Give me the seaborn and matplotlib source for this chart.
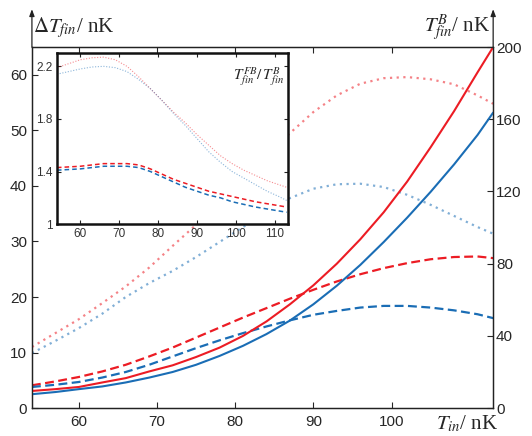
import numpy as np
import matplotlib
matplotlib.use("Agg")
import matplotlib.pyplot as plt
import seaborn as sns

# temperatures T_in (nK)
t_in = [54, 57, 60, 63, 66, 69, 72, 75, 78, 81, 84, 87, 90, 93, 96, 99, 102, 105, 108, 111, 113]

# T_fin^B (right axis, nK)
tb_red = [9.5, 10.5, 11.7, 14.2, 16.6, 20.3, 23.7, 28.3, 33.5, 40.0, 48.0, 57.5, 68.0, 80.0,
          93.5, 108.5, 125.5, 144.5, 164.5, 186.0, 200.0]
tb_blue = [7.7, 8.9, 10.5, 12.0, 14.2, 16.9, 20.0, 24.0, 28.9, 34.5, 41.0, 48.5, 57.5, 67.8,
           79.3, 92.0, 105.5, 119.8, 135.0, 151.3, 163.7]

# Delta T_fin (left axis, nK)
dt_red_dash = [4.1, 4.8, 5.6, 6.6, 7.8, 9.3, 10.9, 12.7, 14.5, 16.3, 18.0, 19.7, 21.3, 22.8,
               24.1, 25.2, 26.1, 26.8, 27.2, 27.3, 27.0]
dt_blue_dash = [3.8, 4.2, 4.7, 5.5, 6.5, 7.8, 9.3, 10.8, 12.2, 13.5, 14.7, 15.8, 16.8, 17.5,
                18.1, 18.4, 18.4, 18.1, 17.6, 16.9, 16.2]
dt_red_dot = [11.0, 13.5, 16.0, 18.9, 21.9, 25.3, 29.2, 33.0, 37.0, 41.2, 45.4, 49.5, 53.3, 56.3,
              58.4, 59.4, 59.6, 59.2, 58.3, 56.3, 54.8]
dt_blue_dot = [9.9, 12.1, 14.4, 17.0, 20.0, 22.5, 24.7, 27.2, 29.9, 32.6, 35.3, 37.8, 39.5, 40.3,
               40.4, 39.8, 38.4, 36.6, 34.6, 32.6, 31.4]

# inset: T_fin^FB / T_fin^B
r_red_dot = [2.19, 2.22, 2.25, 2.265, 2.27, 2.25, 2.20, 2.12, 2.03, 1.94, 1.85, 1.77, 1.68, 1.60,
             1.52, 1.46, 1.41, 1.37, 1.33, 1.30, 1.28]
r_blue_dot = [2.14, 2.16, 2.18, 2.195, 2.20, 2.19, 2.16, 2.10, 2.03, 1.94, 1.84, 1.75, 1.65, 1.55,
              1.47, 1.40, 1.35, 1.30, 1.25, 1.21, 1.18]
r_red_dash = [1.43, 1.435, 1.44, 1.45, 1.46, 1.46, 1.46, 1.45, 1.42, 1.38, 1.34, 1.31, 1.28, 1.25,
              1.23, 1.21, 1.19, 1.17, 1.155, 1.14, 1.13]
r_blue_dash = [1.41, 1.415, 1.42, 1.43, 1.44, 1.44, 1.44, 1.43, 1.40, 1.36, 1.32, 1.28, 1.25, 1.22,
               1.20, 1.17, 1.15, 1.13, 1.115, 1.10, 1.09]

RED = '#ec1c24'
BLUE = '#1a6db5'

sns.set_style('ticks')
plt.rcParams['font.family'] = ['Liberation Sans', 'DejaVu Sans']
plt.rcParams['mathtext.fontset'] = 'stix'
plt.rcParams['xtick.direction'] = 'in'
plt.rcParams['ytick.direction'] = 'in'

fig = plt.figure(figsize=(5.32, 4.36), dpi=100)
ax = fig.add_axes([0.060, 0.064, 0.867, 0.828])
ax2 = ax.twinx()

dash = (0, (4, 2))
dot = (0, (1, 2))
sns.lineplot(x=t_in, y=dt_red_dot, ax=ax, color=RED, lw=1.6, linestyle=dot, alpha=0.55)
sns.lineplot(x=t_in, y=dt_blue_dot, ax=ax, color=BLUE, lw=1.6, linestyle=dot, alpha=0.55)
sns.lineplot(x=t_in, y=dt_red_dash, ax=ax, color=RED, lw=1.6, linestyle=dash)
sns.lineplot(x=t_in, y=dt_blue_dash, ax=ax, color=BLUE, lw=1.6, linestyle=dash)
sns.lineplot(x=t_in, y=tb_red, ax=ax2, color=RED, lw=1.5)
sns.lineplot(x=t_in, y=tb_blue, ax=ax2, color=BLUE, lw=1.5)

ax.set_xlim(54, 113)
ax.set_ylim(0, 65)
ax2.set_ylim(0, 200)
ax.set_xticks(np.arange(60, 101, 10))
ax.set_yticks(np.arange(0, 61, 10))
ax2.set_yticks(np.arange(0, 201, 40))
ax.tick_params(axis='x', top=True, length=4, labelsize=11, pad=5)
ax.tick_params(axis='y', right=False, length=4, labelsize=11)
ax2.tick_params(axis='y', length=4, labelsize=11, pad=2)
for a in (ax, ax2):
    a.set_xlabel('')
    a.set_ylabel('')
    for s in a.spines.values():
        s.set_linewidth(0.9)
        s.set_color('#222222')

# arrows on vertical axes
for xf in (0, 1):
    ax.annotate('', xy=(xf, 1.105), xytext=(xf, 1.0), xycoords='axes fraction',
                arrowprops=dict(arrowstyle='-|>,head_length=0.4,head_width=0.15',
                                color='#222222', lw=0.9, shrinkA=0, shrinkB=0))

fig.text(0.062, 0.937, r'$\Delta T_{fin}$/ nK', fontsize=15, family='Liberation Serif',
         ha='left', va='center')
fig.text(0.922, 0.937, r'$T_{fin}^{B}$/ nK', fontsize=15, family='Liberation Serif',
         ha='right', va='center')
fig.text(0.937, 0.028, r'$T_{in}$/ nK', fontsize=15, family='Liberation Serif',
         ha='right', va='center')

# inset
ins = fig.add_axes([0.107, 0.486, 0.434, 0.392])
ins.set_zorder(5)
ins.set_facecolor('white')
sns.lineplot(x=t_in, y=r_red_dot, ax=ins, color=RED, lw=0.8, linestyle=(0, (1, 1.5)), alpha=0.5)
sns.lineplot(x=t_in, y=r_blue_dot, ax=ins, color=BLUE, lw=0.8, linestyle=(0, (1, 1.5)), alpha=0.5)
sns.lineplot(x=t_in, y=r_red_dash, ax=ins, color=RED, lw=1.1, linestyle=(0, (3, 2)))
sns.lineplot(x=t_in, y=r_blue_dash, ax=ins, color=BLUE, lw=1.1, linestyle=(0, (3, 2)))
ins.set_xlim(54, 113.3)
ins.set_ylim(1, 2.3)
ins.set_xticks(np.arange(60, 111, 10))
ins.set_yticks([1, 1.4, 1.8, 2.2])
ins.set_yticklabels(['1', '1.4', '1.8', '2.2'])
ins.tick_params(top=True, right=True, length=3, labelsize=8.5, pad=3, colors='#222222',
                labelcolor='#333333')
ins.set_xlabel('')
ins.set_ylabel('')
for s in ins.spines.values():
    s.set_linewidth(1.8)
    s.set_color('#111111')
ins.text(0.985, 0.93, r'$T_{fin}^{FB}/\,T_{fin}^{B}$', transform=ins.transAxes, fontsize=11,
         ha='right', va='top')

fig.savefig('out.png', dpi=100)
